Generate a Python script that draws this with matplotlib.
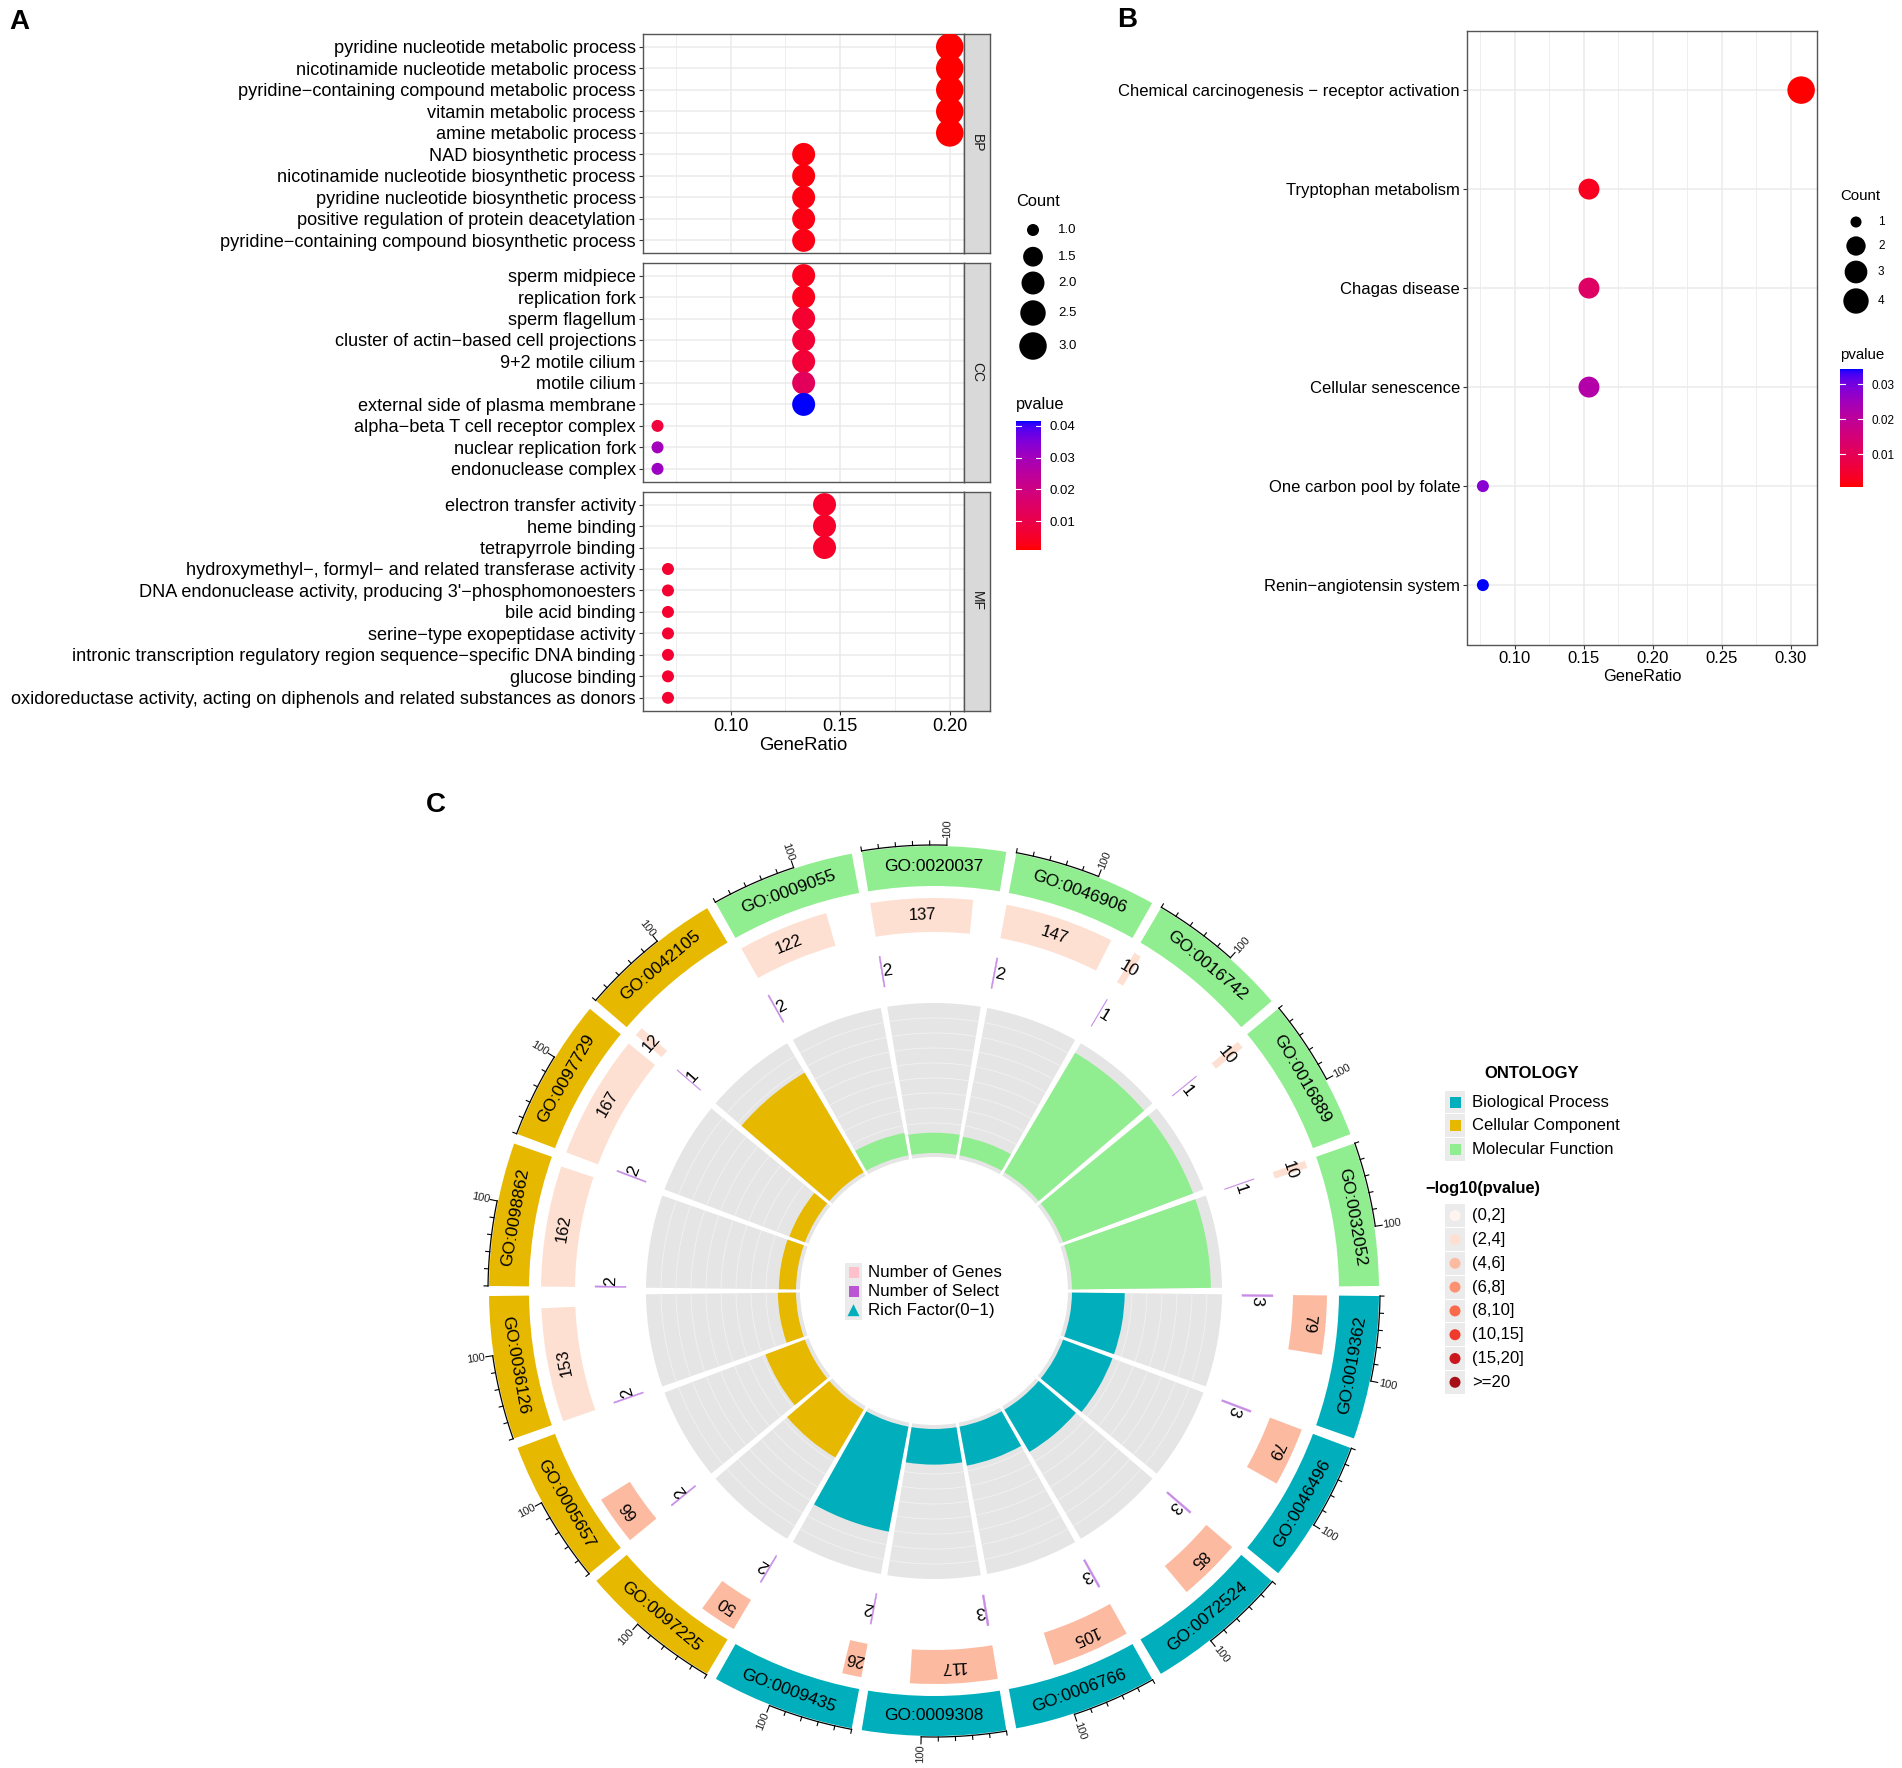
import numpy as np
import matplotlib
matplotlib.use("Agg")
import matplotlib.pyplot as plt
from matplotlib.colors import LinearSegmentedColormap, Normalize
from matplotlib.patches import Rectangle, Polygon, Circle

# ---------------- data: panel A (GO dot plot) ----------------
bp_terms = ["pyridine nucleotide metabolic process",
            "nicotinamide nucleotide metabolic process",
            "pyridine\u2212containing compound metabolic process",
            "vitamin metabolic process",
            "amine metabolic process",
            "NAD biosynthetic process",
            "nicotinamide nucleotide biosynthetic process",
            "pyridine nucleotide biosynthetic process",
            "positive regulation of protein deacetylation",
            "pyridine\u2212containing compound biosynthetic process"]
bp_count = [3, 3, 3, 3, 3, 2, 2, 2, 2, 2]
bp_pval = [0.0009, 0.0009, 0.0009, 0.001, 0.0011, 0.002, 0.002, 0.0022, 0.0024, 0.0025]

cc_terms = ["sperm midpiece", "replication fork", "sperm flagellum",
            "cluster of actin\u2212based cell projections", "9+2 motile cilium",
            "motile cilium", "external side of plasma membrane",
            "alpha\u2212beta T cell receptor complex", "nuclear replication fork",
            "endonuclease complex"]
cc_count = [2, 2, 2, 2, 2, 2, 2, 1, 1, 1]
cc_pval = [0.003, 0.003, 0.006, 0.0065, 0.007, 0.013, 0.0415, 0.008, 0.030, 0.031]

mf_terms = ["electron transfer activity", "heme binding", "tetrapyrrole binding",
            "hydroxymethyl\u2212, formyl\u2212 and related transferase activity",
            "DNA endonuclease activity, producing 3'\u2212phosphomonoesters",
            "bile acid binding", "serine\u2212type exopeptidase activity",
            "intronic transcription regulatory region sequence\u2212specific DNA binding",
            "glucose binding",
            "oxidoreductase activity, acting on diphenols and related substances as donors"]
mf_count = [2, 2, 2, 1, 1, 1, 1, 1, 1, 1]
mf_pval = [0.005, 0.005, 0.005, 0.006, 0.006, 0.006, 0.006, 0.006, 0.006, 0.006]

# ---------------- data: panel B (KEGG dot plot) ----------------
kegg_terms = ["Chemical carcinogenesis \u2212 receptor activation", "Tryptophan metabolism",
              "Chagas disease", "Cellular senescence", "One carbon pool by folate",
              "Renin\u2212angiotensin system"]
kegg_count = [4, 2, 2, 2, 1, 1]
kegg_pval = [0.0006, 0.003, 0.012, 0.022, 0.028, 0.0343]
kegg_total = 13

# ---------------- data: panel C (GO circle) ----------------
go_ids = ["GO:0019362", "GO:0046496", "GO:0072524", "GO:0006766", "GO:0009308", "GO:0009435",
          "GO:0097225", "GO:0005657", "GO:0036126", "GO:0098862", "GO:0097729", "GO:0042105",
          "GO:0009055", "GO:0020037", "GO:0046906", "GO:0016742", "GO:0016889", "GO:0032052"]
go_ont = ["BP"] * 6 + ["CC"] * 6 + ["MF"] * 6
go_genes = [79, 79, 85, 105, 117, 26, 50, 66, 153, 162, 167, 12, 122, 137, 147, 10, 10, 10]
go_select = [3, 3, 3, 3, 3, 2, 2, 2, 2, 2, 2, 1, 2, 2, 2, 1, 1, 1]
go_neglogp = [5.0, 5.0, 5.1, 5.2, 5.3, 4.5, 4.6, 4.3, 3.0, 3.0, 3.0, 2.8,
              2.9, 3.1, 3.2, 2.5, 2.5, 2.5]

ont_names = ["Biological Process", "Cellular Component", "Molecular Function"]
ont_colors = {"BP": "#00AFBB", "CC": "#E7B800", "MF": "#90EE90"}
p_bins = ["(0,2]", "(2,4]", "(4,6]", "(6,8]", "(8,10]", "(10,15]", "(15,20]", ">=20"]
p_edges = [0, 2, 4, 6, 8, 10, 15, 20]
p_colors = ["#FFF5F0", "#FEE0D2", "#FCBBA1", "#FC9272", "#FB6A4A", "#EF3B2C", "#CB181D", "#A50F15"]

W, H = 1902, 1768
plt.rcParams["font.family"] = ["Liberation Sans", "DejaVu Sans"]
fig = plt.figure(figsize=(W / 100, H / 100), dpi=100)


def frac(l, t, r, b):
    return [l / W, 1 - b / H, (r - l) / W, (b - t) / H]


# red -> blue gradient in CIELAB, like ggplot's scale_colour_gradient
WHITE = np.array([0.95047, 1.0, 1.08883])
M = np.array([[0.4124, 0.3576, 0.1805], [0.2126, 0.7152, 0.0722], [0.0193, 0.1192, 0.9505]])


def to_lab(rgb):
    rgb = np.asarray(rgb, float)
    lin = np.where(rgb <= 0.04045, rgb / 12.92, ((rgb + 0.055) / 1.055) ** 2.4)
    xyz = M @ lin / WHITE
    f = np.where(xyz > 0.008856, np.cbrt(xyz), 7.787 * xyz + 16 / 116)
    return np.array([116 * f[1] - 16, 500 * (f[0] - f[1]), 200 * (f[1] - f[2])])


def from_lab(lab):
    fy = (lab[0] + 16) / 116
    f = np.array([fy + lab[1] / 500, fy, fy - lab[2] / 200])
    xyz = np.where(f ** 3 > 0.008856, f ** 3, (f - 16 / 116) / 7.787) * WHITE
    lin = np.clip(np.linalg.solve(M, xyz), 0, None)
    rgb = np.where(lin <= 0.0031308, 12.92 * lin, 1.055 * lin ** (1 / 2.4) - 0.055)
    return np.clip(rgb, 0, 1)


lab_r, lab_b = to_lab([1, 0, 0]), to_lab([0, 0, 1])
cmap = LinearSegmentedColormap.from_list(
    "redblue", [from_lab(lab_r + (lab_b - lab_r) * t) for t in np.linspace(0, 1, 64)])


def dot_size(counts, cmin, cmax):
    d_px = 12 + 15.5 * np.sqrt((np.asarray(counts, float) - cmin) / (cmax - cmin))
    return (d_px * 0.72) ** 2


# overlay axes in pixel coordinates for legends and panel letters
ov = fig.add_axes([0, 0, 1, 1])
ov.set_xlim(0, W)
ov.set_ylim(H, 0)
ov.set_axis_off()
ov.set_zorder(5)

ov.text(19, 22, "A", fontsize=20, fontweight="bold", ha="center", va="center")
ov.text(1127, 20, "B", fontsize=20, fontweight="bold", ha="center", va="center")
ov.text(436, 805, "C", fontsize=20, fontweight="bold", ha="center", va="center")

# ---------------- panel A ----------------
norm_a = Normalize(0.0009, 0.0415)
facets = [("BP", bp_terms, bp_count, bp_pval, 15, 34.0, 253.3),
          ("CC", cc_terms, cc_count, cc_pval, 15, 262.7, 481.7),
          ("MF", mf_terms, mf_count, mf_pval, 14, 491.7, 710.7)]
for name, terms, counts, pvals, total, top, bot in facets:
    ax = fig.add_axes(frac(642.7, top, 964, bot))
    y = np.arange(len(terms), 0, -1)
    ax.scatter(np.array(counts) / total, y, s=dot_size(counts, 1, 3), c=pvals,
               cmap=cmap, norm=norm_a, linewidths=0, zorder=3)
    ax.set_xlim(0.0599, 0.2065)
    ax.set_ylim(0.4, len(terms) + 0.6)
    ax.set_yticks(y)
    ax.set_yticklabels(terms)
    ax.set_xticks([0.10, 0.15, 0.20])
    ax.set_xticklabels(["0.10", "0.15", "0.20"])
    ax.set_xticks([0.075, 0.125, 0.175], minor=True)
    ax.set_axisbelow(True)
    ax.grid(True, which="major", color="#EBEBEB", lw=1.1)
    ax.grid(True, which="minor", axis="x", color="#EBEBEB", lw=0.6)
    ax.tick_params(which="major", labelsize=13.1, length=3, width=0.8, color="#333333",
                   pad=2, labelcolor="black")
    ax.tick_params(which="minor", length=0)
    for sp in ax.spines.values():
        sp.set_color("#555555")
        sp.set_linewidth(1.0)
    if name != "MF":
        ax.tick_params(labelbottom=False, bottom=False)
    else:
        ax.set_xlabel("GeneRatio", fontsize=13.3, labelpad=2)
    st = fig.add_axes(frac(964, top, 990, bot))
    st.set_facecolor("#D9D9D9")
    st.set_xticks([])
    st.set_yticks([])
    for sp in st.spines.values():
        sp.set_color("#555555")
        sp.set_linewidth(1.0)
    st.text(0.5, 0.5, name, rotation=-90, ha="center", va="center", fontsize=10,
            color="#1A1A1A", transform=st.transAxes)


def draw_colorbar(l, t, r, b, vmin, vmax, ticks, fs):
    cax = fig.add_axes(frac(l, t, r, b))
    grad = np.linspace(vmin, vmax, 256).reshape(-1, 1)
    cax.imshow(grad, aspect="auto", cmap=cmap, norm=Normalize(vmin, vmax), origin="lower",
               extent=[0, 1, vmin, vmax])
    for tk in ticks:
        cax.plot([0, 0.2], [tk, tk], color="white", lw=0.8)
        cax.plot([0.8, 1], [tk, tk], color="white", lw=0.8)
    cax.set_xlim(0, 1)
    cax.set_ylim(vmin, vmax)
    cax.set_xticks([])
    cax.yaxis.tick_right()
    cax.set_yticks(ticks)
    cax.set_yticklabels([f"{tk:.2f}" for tk in ticks])
    cax.tick_params(length=0, labelsize=fs, pad=6)
    for sp in cax.spines.values():
        sp.set_visible(False)


# legends of panel A
ov.text(1016, 201, "Count", fontsize=11.8, ha="left", va="center")
a_leg_counts = [1.0, 1.5, 2.0, 2.5, 3.0]
a_leg_y = [230, 256.7, 283, 313, 346]
ov.scatter([1033] * 5, a_leg_y, s=dot_size(a_leg_counts, 1, 3), color="black", linewidths=0)
for c, yy in zip(a_leg_counts, a_leg_y):
    ov.text(1058, yy, f"{c:.1f}", fontsize=9.5, ha="left", va="center")
ov.text(1016, 405, "pvalue", fontsize=11.8, ha="left", va="center")
draw_colorbar(1016, 421, 1041, 550, 0.0009, 0.0415, [0.01, 0.02, 0.03, 0.04], 9.5)

# ---------------- panel B ----------------
axb = fig.add_axes(frac(1467, 30.7, 1817, 644.5))
yb = np.arange(len(kegg_terms), 0, -1)
axb.scatter(np.array(kegg_count) / kegg_total, yb, s=dot_size(kegg_count, 1, 4),
            c=kegg_pval, cmap=cmap, norm=Normalize(0.0006, 0.0343), linewidths=0, zorder=3)
axb.set_xlim(0.0654, 0.3192)
axb.set_ylim(0.4, len(kegg_terms) + 0.6)
axb.set_yticks(yb)
axb.set_yticklabels(kegg_terms)
axb.set_xticks([0.10, 0.15, 0.20, 0.25, 0.30])
axb.set_xticklabels(["0.10", "0.15", "0.20", "0.25", "0.30"])
axb.set_xticks([0.075, 0.125, 0.175, 0.225, 0.275], minor=True)
axb.set_axisbelow(True)
axb.grid(True, which="major", color="#EBEBEB", lw=1.1)
axb.grid(True, which="minor", axis="x", color="#EBEBEB", lw=0.6)
axb.tick_params(which="major", labelsize=12, length=3, width=0.8, color="#333333", pad=2)
axb.tick_params(which="minor", length=0)
for sp in axb.spines.values():
    sp.set_color("#555555")
    sp.set_linewidth(1.0)
axb.set_xlabel("GeneRatio", fontsize=11.8, labelpad=2)

ov.text(1840, 196, "Count", fontsize=10.8, ha="left", va="center")
b_leg_counts = [1, 2, 3, 4]
b_leg_y = [222, 246, 272, 301]
ov.scatter([1856] * 4, b_leg_y, s=dot_size(b_leg_counts, 1, 4) * 0.85, color="black",
           linewidths=0)
for c, yy in zip(b_leg_counts, b_leg_y):
    ov.text(1878, yy, str(c), fontsize=8.5, ha="left", va="center")
ov.text(1840, 355, "pvalue", fontsize=10.8, ha="left", va="center")
draw_colorbar(1840, 369, 1863, 487, 0.0006, 0.0343, [0.01, 0.02, 0.03], 8.5)

# ---------------- panel C ----------------
cx, cy, R = 934, 1291, 470
axc = fig.add_axes(frac(cx - R, cy - R, cx + R, cy + R), projection="polar")
axc.set_theta_zero_location("E")
axc.set_theta_direction(-1)
axc.set_ylim(0, R)
axc.set_axis_off()

gap = 1.3
span = 20 - gap
xmax = 170.0
unit = span / xmax
rad = np.deg2rad
rf = np.array(go_select) / np.array(go_genes)
rf_scale = 0.108


def bin_color(v):
    idx = int(np.searchsorted(p_edges, v, side="left")) - 1
    return p_colors[max(0, min(idx, len(p_colors) - 1))]


def rot_inside(t_deg):
    return -t_deg - 90


def rot_readable(t_deg):
    s = -t_deg
    return s - 90 if np.sin(rad(s)) > 0 else s + 90


def rot_radial(t_deg):
    s = (-t_deg) % 360
    return s if (s <= 90 or s >= 270) else s - 180


for i, gid in enumerate(go_ids):
    start = 20 * i + gap / 2
    col = ont_colors[go_ont[i]]
    mid = start + span / 2
    # outer ontology ring + GO id
    axc.bar(rad(start), 40, width=rad(span), bottom=405, align="edge", color=col, lw=0)
    axc.text(rad(mid), 425, gid, rotation=rot_readable(mid), rotation_mode="anchor",
             ha="center", va="center", fontsize=12.5)
    # axis with ticks 0..100
    th = np.linspace(start, start + 100 * unit, 40)
    axc.plot(rad(th), np.full_like(th, 446), color="black", lw=0.9)
    for k in range(6):
        tt = start + 20 * k * unit
        axc.plot([rad(tt), rad(tt)], [446, 450 if k < 5 else 453], color="black", lw=0.8)
    t100 = start + 100 * unit
    axc.text(rad(t100), 463, "100", rotation=rot_radial(t100), rotation_mode="anchor",
             ha="center", va="center", fontsize=8, color="#222222")
    # number of genes ring
    gw = go_genes[i] * unit
    axc.bar(rad(start), 34, width=rad(gw), bottom=359, align="edge",
            color=bin_color(go_neglogp[i]), lw=0)
    axc.text(rad(start + gw / 2), 376, str(go_genes[i]), rotation=rot_inside(start + gw / 2),
             rotation_mode="anchor", ha="center", va="center", fontsize=12)
    # number of select ring
    sw = go_select[i] * unit
    axc.bar(rad(start), 31, width=rad(sw), bottom=308, align="edge", color="#C78BE6",
            edgecolor="#C78BE6", lw=0.3)
    ts = start + sw / 2 + 1.0
    axc.text(rad(ts), 323, str(go_select[i]), rotation=rot_inside(ts), rotation_mode="anchor",
             ha="center", va="center", fontsize=12.5)
    # rich factor track: grey background with white guide circles, then the bar
    axc.bar(rad(start), 154, width=rad(span), bottom=134, align="edge", color="#E5E5E5",
            lw=0, zorder=1)
    th = np.linspace(start, start + span, 40)
    for k in range(1, 10):
        axc.plot(rad(th), np.full_like(th, 138 + 15 * k), color="#F2F2F2", lw=0.6, zorder=2)
    axc.bar(rad(start), rf[i] / rf_scale * 150, width=rad(span), bottom=138, align="edge",
            color=col, lw=0, zorder=3)

# inner legend
inner_labels = ["Number of Genes", "Number of Select", "Rich Factor(0\u22121)"]
inner_y = [1272.3, 1291.7, 1310.7]
for lab, yy in zip(inner_labels, inner_y):
    ov.add_patch(Rectangle((845, yy - 9.5), 17, 19, color="#EBEBEB", lw=0))
    ov.text(868, yy, lab, fontsize=12.2, ha="left", va="center")
ov.add_patch(Rectangle((848.5, inner_y[0] - 5.5), 10, 11, color="#FFC0CB", lw=0))
ov.add_patch(Rectangle((848.5, inner_y[1] - 5.5), 10, 11, color="#BA55D3", lw=0))
ov.add_patch(Polygon([[847.5, inner_y[2] + 5.5], [859.5, inner_y[2] + 5.5],
                      [853.5, inner_y[2] - 6.5]], closed=True, color="#00AFBB", lw=0))

# ontology legend
ov.text(1532, 1074, "ONTOLOGY", fontsize=12, fontweight="bold", ha="center", va="center")
for k, (nm, key) in enumerate(zip(ont_names, ["BP", "CC", "MF"])):
    yy = 1102 + 23.8 * k
    ov.add_patch(Rectangle((1445, yy - 11.4), 20, 22.8, color="#EBEBEB", lw=0))
    ov.add_patch(Rectangle((1449.5, yy - 5.5), 11, 11, color=ont_colors[key], lw=0))
    ov.text(1472, yy, nm, fontsize=12, ha="left", va="center")

ov.text(1425, 1188, "\u2212log10(pvalue)", fontsize=11.8, fontweight="bold", ha="left",
        va="center")
for k, (lab, col) in enumerate(zip(p_bins, p_colors)):
    yy = 1215.7 + 23.8 * k
    ov.add_patch(Rectangle((1445, yy - 11.4), 20, 22.8, color="#EBEBEB", lw=0))
    ov.add_patch(Circle((1455, yy), 5.5, color=col, lw=0))
    ov.text(1472, yy, lab, fontsize=12, ha="left", va="center")

fig.savefig("out.png", dpi=100)
